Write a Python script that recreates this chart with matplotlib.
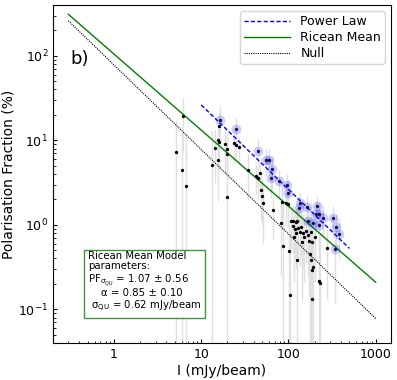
import numpy as np
import matplotlib
matplotlib.use("Agg")
import matplotlib.pyplot as plt
from matplotlib.ticker import FuncFormatter, LogLocator

# ---- data ----
black_I = [5.2, 6.2, 6.06, 6.7, 13.4, 14.4, 15.7, 16.1, 16.1, 15.7, 18.5, 19.7, 20.0, 20.0,
           23.5, 25.2, 27.3, 34.0, 43.0, 44.5, 46.7, 48.6, 49.6, 50.9, 65.8, 82.6, 85, 93, 99,
           87, 101, 104, 107, 113, 112, 118, 116, 121, 122, 126, 126, 129, 136, 138, 143, 146,
           150, 158, 169, 172, 176, 181, 183, 184, 186, 186, 193, 202, 224, 228, 278]
black_PF = [7.2, 19.3, 4.5, 2.9, 5.1, 8.1, 10.2, 9.5, 14.8, 5.9, 9.0, 8.0, 6.9, 2.15,
            9.4, 8.7, 8.3, 4.5, 3.8, 3.6, 4.1, 2.6, 2.2, 1.8, 1.48, 1.05, 1.88, 1.8, 1.75,
            0.56, 0.49, 0.146, 1.12, 1.12, 0.97, 0.89, 0.71, 1.07, 0.81, 1.1, 0.38, 0.91, 0.83, 0.95, 0.63, 0.81,
            0.71, 0.85, 0.75, 0.64, 0.45, 0.38, 0.83, 0.29, 0.63, 0.133, 0.32, 0.71, 0.216, 0.205, 0.53]
black_err = [10, 12, 8, 9, 8, 5, 6, 5, 7, 4, 5, 4, 4, 6,
             4, 3, 3, 2.5, 1.5, 1.5, 1.5, 1.5, 1.2, 1.2, 0.8, 0.8, 1.0, 0.8, 0.8,
             1.2, 0.5, 0.6, 0.6, 0.6, 0.5, 0.5, 0.5, 0.5, 0.5, 0.5, 1.0, 0.5, 0.5, 0.5, 0.5, 0.5,
             0.5, 0.5, 0.5, 0.5, 1.2, 0.5, 0.5, 0.6, 0.5, 0.8, 0.5, 0.5, 0.6, 0.6, 0.4]

blue_I = [16.4, 24.9, 44.3, 54.7, 59.3, 64.6, 62.5, 77.6, 95, 99, 131, 135, 164, 167,
          207, 210, 226, 250, 192, 224, 321, 349, 378, 338]
blue_PF = [17.6, 13.8, 7.5, 5.8, 5.8, 4.6, 3.6, 3.3, 3.0, 2.4, 1.58, 1.79, 1.61, 1.12,
           1.34, 1.65, 1.36, 1.22, 1.04, 0.99, 1.19, 0.95, 0.79, 0.52]
blue_err = [8, 5, 3, 2, 2, 2, 1.5, 1.2, 1.0, 1.0, 0.6, 0.6, 0.6, 0.5,
            0.5, 0.5, 0.5, 0.5, 0.5, 0.5, 0.5, 0.4, 0.4, 0.4]

# model lines: normalisation, slope, I-range
power_law = dict(norm=263.0, slope=-1.0, I_range=(10, 500))
ricean_mean = dict(norm=105.0, slope=-0.9, I_range=(0.3, 1000))
null_model = dict(norm=78.0, slope=-1.0, I_range=(0.3, 1000))

box_text = ("Ricean Mean Model\nparameters:\n"
            r"PF$_{\sigma_{\mathrm{QU}}}$ = 1.07 ± 0.56" "\n"
            "    α = 0.85 ± 0.10\n"
            r" σ$_{\mathrm{QU}}$ = 0.62 mJy/beam")

# ---- figure ----
fig = plt.figure(figsize=(3.97, 3.80), dpi=100)
ax = fig.add_axes([0.1335, 0.0974, 0.8515, 0.8895])
ax.set_xscale("log")
ax.set_yscale("log")
ax.set_xlim(0.2, 1500)
ax.set_ylim(0.04, 400)

def model(p):
    x = np.logspace(np.log10(p["I_range"][0]), np.log10(p["I_range"][1]), 200)
    return x, p["norm"] * x ** p["slope"]

all_I = np.array(black_I + blue_I)
all_PF = np.array(black_PF + blue_PF)
all_err = np.array(black_err + blue_err)
lo = np.minimum(all_err, all_PF - 1e-3)
ax.errorbar(all_I, all_PF, yerr=[lo, all_err], fmt="none", ecolor="#e0e0e0",
            elinewidth=1.0, zorder=1)

x, y = model(power_law)
ax.plot(x, y, color="blue", ls=(0, (3, 1.6)), lw=1.0, label="Power Law", zorder=3)
x, y = model(ricean_mean)
ax.plot(x, y, color="green", ls="-", lw=1.0, label="Ricean Mean", zorder=3)
x, y = model(null_model)
ax.plot(x, y, color="black", ls=(0, (1, 1)), lw=0.8, label="Null", zorder=3)

ax.plot(blue_I, blue_PF, "o", color="blue", alpha=0.2, ms=7, mec="none", zorder=4)
ax.plot(blue_I, blue_PF, "o", color="#10104a", ms=2.4, mec="none", zorder=5)
ax.plot(black_I, black_PF, "o", color="black", ms=2.4, mec="none", zorder=5)

ax.xaxis.set_major_locator(LogLocator(base=10, numticks=10))
ax.xaxis.set_major_formatter(FuncFormatter(lambda v, p: f"{v:g}"))
ax.tick_params(which="both", direction="in", labelsize=9)
ax.tick_params(which="major", length=3)
ax.tick_params(which="minor", length=1.8)

ax.set_xlabel("I (mJy/beam)", fontsize=10, labelpad=2)
ax.set_ylabel("Polarisation Fraction (%)", fontsize=10, labelpad=2)

ax.text(0.05, 0.84, "b)", transform=ax.transAxes, fontsize=13, va="center", ha="left")

leg = ax.legend(loc="upper right", fontsize=9, handlelength=3.7, fancybox=True,
                framealpha=0.8, edgecolor="#cccccc", borderpad=0.3, labelspacing=0.25)

ax.text(0.103, 0.272, box_text, transform=ax.transAxes, fontsize=7.3,
        va="top", ha="left", linespacing=1.05,
        bbox=dict(boxstyle="square,pad=0.4", fc="white", ec="#3a9a3a", lw=1.0), zorder=6)

fig.savefig("out.png", dpi=100)
